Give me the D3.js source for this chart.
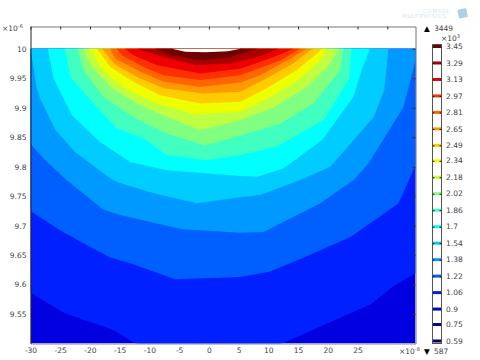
<!DOCTYPE html>
<html>
<head>
<meta charset="utf-8">
<script src="https://cdn.jsdelivr.net/npm/d3@7"></script>
<style>
  html, body { margin: 0; padding: 0; background: #fff; }
  svg { display: block; }
  text { font-family: "DejaVu Sans", sans-serif; fill: #444; }
</style>
</head>
<body>
<svg id="chart"></svg>
<script>
// colour legend levels, top to bottom
const levels = [3.45, 3.29, 3.13, 2.97, 2.81, 2.65, 2.49, 2.34, 2.18, 2.02, 1.86, 1.7, 1.54, 1.38, 1.22, 1.06, 0.9, 0.75, 0.59];
const levelColors = ["#700000", "#aa0000", "#ee0000", "#ff3000", "#ff6600", "#ff9900", "#ffcc00", "#eeff00", "#c0ff40", "#80ff80",
    "#40ffc0", "#00ffff", "#00ccff", "#0099ff", "#0060ff", "#0020ff", "#0000e0", "#0000a0", "#000070"];

const xTicks = [-30, -25, -20, -15, -10, -5, 0, 5, 10, 15, 20, 25];
const xTopTicks = [-30, -25, -20, -15, -10, -5, 0, 5, 10, 15, 20, 25, 30];
const yTicks = [9.55, 9.6, 9.65, 9.7, 9.75, 9.8, 9.85, 9.9, 9.95, 10];

// contour boundaries [x (1e-8), y (1e-6)], everything above a line is hotter
const c106 = [[-30, 9.586], [-24.4, 9.552], [-16.1, 9.523], [-12.4, 9.5], [0, 9.486], [12.3, 9.5], [27.3, 9.567], [31, 9.597], [34.9, 9.62]];
const c122 = [[-30, 9.725], [-25.3, 9.694], [-21.1, 9.67], [-16.6, 9.646], [-13.2, 9.636], [-5.7, 9.609], [5.3, 9.613], [10.3, 9.622], [15.1, 9.642], [23.9, 9.681], [31.9, 9.738], [34.9, 9.806]];
const c138 = [[-30, 9.839], [-27.8, 9.814], [-23.9, 9.777], [-17.7, 9.727], [-14.9, 9.718], [-4.5, 9.694], [5.3, 9.688], [9.2, 9.689], [18.7, 9.738], [24.3, 9.777], [26.8, 9.805], [32.7, 9.901], [34.9, 9.986]];
const c154 = [[-30, 10], [-29, 9.935], [-28.4, 9.916], [-25.8, 9.862], [-22.5, 9.825], [-17.1, 9.784], [-15.5, 9.774], [-9.3, 9.755], [-2, 9.738], [5.3, 9.748], [8.6, 9.752], [15.3, 9.777], [20.4, 9.8], [27.7, 9.884], [29.5, 9.93], [30.2, 10]];
const c170 = [[-27.1, 10], [-26.1, 9.949], [-23, 9.887], [-18.3, 9.842], [-13.2, 9.808], [-7.1, 9.794], [5.3, 9.784], [8.1, 9.783], [12.5, 9.797], [19, 9.845], [24.3, 9.918], [25.7, 9.964], [27.1, 10]];
const c186 = [[-24.2, 10], [-23.3, 9.952], [-18.8, 9.901], [-15.5, 9.865], [-11, 9.848], [-7.1, 9.82], [-0.3, 9.811], [5.3, 9.82], [11.4, 9.834], [19.3, 9.879], [23.6, 9.949], [24, 10]];
const c202 = [[-22.1, 10], [-21.1, 9.964], [-17.7, 9.918], [-12.7, 9.884], [-7.1, 9.856], [-0.6, 9.836], [5.3, 9.853], [12, 9.873], [17.6, 9.907], [22.1, 9.964], [22.6, 10]];
const c218 = [[-21.2, 10], [-19.9, 9.972], [-16.3, 9.933], [-11.5, 9.904], [-7.6, 9.887], [-1.5, 9.862], [5.3, 9.879], [10.9, 9.901], [16.5, 9.935], [20.4, 9.975], [21.8, 10]];
const c234 = [[-20.1, 10], [-17.7, 9.961], [-13.8, 9.93], [-8.7, 9.907], [-2.3, 9.889], [5.3, 9.893], [10.3, 9.918], [15.3, 9.949], [19, 9.983], [20.1, 10]];
const c249 = [[-18.8, 10], [-16.6, 9.969], [-12.7, 9.944], [-8.2, 9.921], [-1.5, 9.907], [5.3, 9.91], [9.7, 9.933], [14.8, 9.964], [18.2, 9.992], [19, 10]];
const c265 = [[-17.9, 10], [-16, 9.975], [-12.1, 9.952], [-7.6, 9.933], [-0.9, 9.924], [5.3, 9.927], [9.2, 9.947], [14.2, 9.975], [16.7, 9.995], [17.6, 10]];
const c281 = [[-16.6, 10], [-15.7, 9.983], [-11.5, 9.961], [-7.6, 9.944], [-1.5, 9.935], [5.3, 9.943], [8.6, 9.955], [13.7, 9.983], [15.9, 9.997], [16.5, 10]];
const c297 = [[-15.5, 10], [-14.6, 9.989], [-11, 9.969], [-7.6, 9.955], [-1.5, 9.947], [5.3, 9.955], [12, 9.98], [15.3, 10]];
const c313 = [[-14.1, 10], [-12.7, 9.989], [-8.7, 9.972], [-1.5, 9.958], [5.3, 9.966], [10.9, 9.986], [14.2, 10]];
const c329 = [[-12, 10], [-7.7, 9.986], [-2, 9.972], [3.6, 9.975], [9.2, 9.989], [11.6, 10]];
const c345 = [[-9, 10], [-6.5, 9.989], [-1, 9.98], [3.6, 9.986], [8.1, 10]];
// dented top surface of the domain
const surface = [[-6.2, 10], [-4, 9.995], [-0.6, 9.994], [3.2, 9.996], [5.3, 10]];

const bands = [c106, c122, c138, c154, c170, c186, c202, c218, c234, c249, c265, c281, c297, c313, c329, c345];
const bandColors = levelColors.slice(0, 16).reverse();
const baseColor = levelColors[16];

const width = 480;
const height = 360;
const plotLeft = 30.5;
const plotRight = 415.5;
const plotTop = 26.5;
const plotBottom = 343.5;

const xScale = d3.scaleLinear().domain([-30, 34.75]).range([plotLeft, plotRight]);
const yScale = d3.scaleLinear().domain([9.5, 10.0378]).range([plotBottom, plotTop]);
const legendScale = d3.scaleLinear().domain([0.59, 3.45]).range([341, 46.5]);

const svg = d3.select("#chart").attr("width", width).attr("height", height);

svg.append("defs").append("clipPath").attr("id", "plot")
    .append("rect")
    .attr("x", plotLeft).attr("y", plotTop)
    .attr("width", plotRight - plotLeft).attr("height", plotBottom - plotTop);

const plot = svg.append("g").attr("clip-path", "url(#plot)");

// coldest band fills the domain, hotter ones are painted over it
plot.append("rect")
    .attr("x", plotLeft).attr("y", yScale(10))
    .attr("width", plotRight - plotLeft).attr("height", plotBottom - yScale(10))
    .attr("fill", baseColor);

const bandArea = d3.area()
    .x(d => xScale(d[0]))
    .y0(yScale(10))
    .y1(d => yScale(d[1]));

plot.selectAll("path.band")
    .data(bands)
    .enter()
    .append("path")
        .attr("class", "band")
        .attr("d", bandArea)
        .attr("fill", (d, i) => bandColors[i]);

plot.append("path")
    .datum(surface)
    .attr("d", bandArea)
    .attr("fill", "#fff");

// Frame: ticks point inward on top and right, labels on left and bottom
const xTop = d3.axisTop(xScale).tickValues(xTopTicks).tickSizeInner(-3).tickSizeOuter(0).tickFormat("");
const yRight = d3.axisRight(yScale).tickValues(yTicks).tickSizeInner(-3).tickSizeOuter(0).tickFormat("");
const xBottom = d3.axisBottom(xScale).tickValues(xTicks).tickSize(0).tickPadding(4).tickFormat(d => d);
const yLeft = d3.axisLeft(yScale).tickValues(yTicks).tickSize(0).tickPadding(4).tickFormat(d => d);

function styleAxis(g, lineColor) {
    g.selectAll("path.domain").attr("stroke", lineColor);
    g.selectAll("line").attr("stroke", "#333");
    g.selectAll("text").style("font-size", "7.5px").style("font-family", '"DejaVu Sans"').attr("fill", "#444");
}

svg.append("g").attr("transform", `translate(0, ${plotTop})`).call(xTop).call(styleAxis, "#777");
svg.append("g").attr("transform", `translate(${plotRight}, 0)`).call(yRight).call(styleAxis, "#777");
svg.append("g").attr("transform", `translate(0, ${plotBottom})`).call(xBottom).call(styleAxis, "#888");
svg.append("g").attr("transform", `translate(${plotLeft}, 0)`).call(yLeft).call(styleAxis, "#222");

// Exponent labels
function exponent(x, y, base, power) {
    const t = svg.append("text").attr("x", x).attr("y", y).style("font-size", "7.5px");
    t.append("tspan").text(base);
    t.append("tspan").attr("dy", -3).style("font-size", "5px").text(power);
}
exponent(2, 31, "×10", "-6");
exponent(399, 354, "×10", "-8");
exponent(441, 41, "×10", "3");

// Colour legend
const barLeft = 432.5;
const barRight = 441.5;

svg.append("rect")
    .attr("x", barLeft).attr("y", 44.5)
    .attr("width", barRight - barLeft).attr("height", 299)
    .attr("fill", "#fff").attr("stroke", "#555");

svg.selectAll("rect.level")
    .data(levels)
    .enter()
    .append("rect")
        .attr("class", "level")
        .attr("x", barLeft + 0.5)
        .attr("y", d => legendScale(d) - 1.5)
        .attr("width", barRight - barLeft - 1)
        .attr("height", 3)
        .attr("fill", (d, i) => levelColors[i]);

// small dark ticks on both sides of the legend bar
const legendAxis = d3.axisRight(legendScale).tickValues(levels).tickSizeInner(-2).tickSizeOuter(0).tickFormat("");
const legendAxisLeft = d3.axisLeft(legendScale).tickValues(levels).tickSizeInner(-2).tickSizeOuter(0).tickFormat("");
svg.append("g").attr("transform", `translate(${barRight}, 0)`).call(legendAxis)
    .call(g => g.select("path.domain").remove())
    .selectAll("line").attr("stroke", "#222");
svg.append("g").attr("transform", `translate(${barLeft}, 0)`).call(legendAxisLeft)
    .call(g => g.select("path.domain").remove())
    .selectAll("line").attr("stroke", "#222");

svg.selectAll("text.level")
    .data(levels)
    .enter()
    .append("text")
        .attr("class", "level")
        .attr("x", 446)
        .attr("y", d => legendScale(d) + 2.7)
        .style("font-size", "7.5px")
        .text(d => d);

// Max and min markers
svg.append("text").attr("x", 424).attr("y", 31).style("font-size", "7.5px").style("fill", "#000").text("▲");
svg.append("text").attr("x", 434).attr("y", 31).style("font-size", "7.5px").text("3449");
svg.append("text").attr("x", 424).attr("y", 354).style("font-size", "7.5px").style("fill", "#000").text("▼");
svg.append("text").attr("x", 434).attr("y", 354).style("font-size", "7.5px").text("587");

// Faint watermark
svg.append("text").attr("x", 423).attr("y", 13).style("font-size", "5.5px").style("letter-spacing", "0.5px").style("fill", "#cfe6f0").text("COMSOL");
svg.append("text").attr("x", 402).attr("y", 18).style("font-size", "5.5px").style("letter-spacing", "0.4px").style("fill", "#cfe6f0").text("MULTIPHYSICS");
svg.append("rect")
    .attr("x", 458).attr("y", 9)
    .attr("width", 9).attr("height", 9)
    .attr("rx", 1)
    .attr("transform", "rotate(-12 462 13)")
    .attr("fill", "#a9d3e3");
</script>
</body>
</html>
